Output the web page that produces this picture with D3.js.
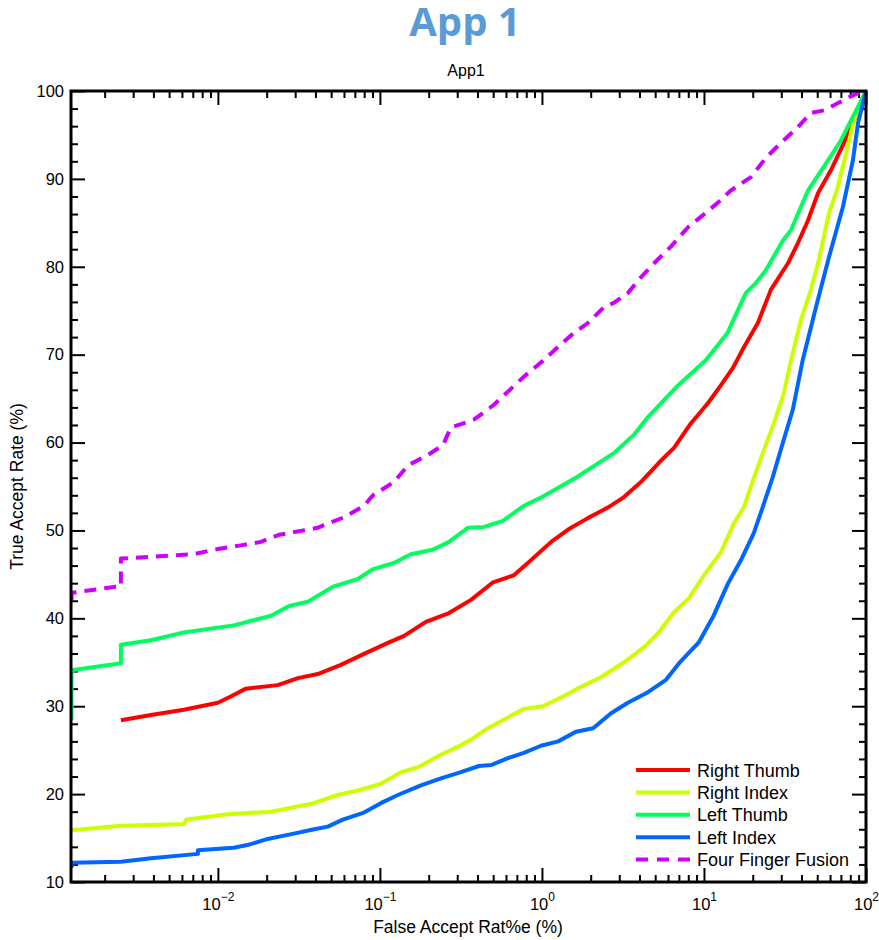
<!DOCTYPE html>
<html>
<head>
<meta charset="utf-8">
<script src="https://cdn.jsdelivr.net/npm/d3@7"></script>
<style>
  body { margin: 0; background: #fff; }
  svg { display: block; font-family: "Liberation Sans", Arial, sans-serif; }
</style>
</head>
<body>
<svg id="chart" width="879" height="940"></svg>
<script>
// [false accept rate %, true accept rate %]
const rightThumb = [
  [0.00252, 28.4], [0.00386, 29.0], [0.00617, 29.6], [0.0100, 30.4], [0.0120, 31.1],
  [0.0149, 32.0], [0.0234, 32.4], [0.0312, 33.2], [0.042, 33.7], [0.0574, 34.7],
  [0.0786, 35.9], [0.112, 37.2], [0.141, 38.0], [0.192, 39.6], [0.267, 40.6],
  [0.365, 42.1], [0.499, 44.1], [0.671, 44.9], [0.855, 46.6], [1.14, 48.7],
  [1.45, 50.1], [1.92, 51.4], [2.55, 52.6], [3.16, 53.7], [4.08, 55.5],
  [5.27, 57.7], [6.53, 59.4], [8.32, 62.2], [10.6, 64.5], [12.7, 66.5],
  [15.1, 68.5], [17.7, 70.9], [21.5, 73.6], [25.9, 77.4], [33.0, 80.4],
  [38.0, 82.7], [43.9, 85.3], [50.6, 88.4], [60.8, 91.0], [73.1, 94.1],
  [84.4, 96.7], [100, 100]
];
const rightIndex = [
  [0.00125, 15.9], [0.00252, 16.4], [0.00617, 16.6], [0.0064, 17.1], [0.0115, 17.7],
  [0.0213, 18.0], [0.0376, 18.9], [0.055, 19.9], [0.0763, 20.5], [0.102, 21.2],
  [0.135, 22.5], [0.174, 23.1], [0.228, 24.3], [0.303, 25.4], [0.365, 26.2],
  [0.464, 27.5], [0.583, 28.5], [0.774, 29.7], [1.01, 30.0], [1.31, 31.0],
  [1.74, 32.2], [2.31, 33.3], [3.21, 35.0], [4.26, 36.7], [5.20, 38.3],
  [6.53, 40.7], [8.08, 42.3], [10.0, 44.9], [12.7, 47.5], [15.3, 50.8],
  [17.7, 52.7], [20.4, 56.1], [23.5, 59.2], [27.0, 62.2], [31.1, 65.6],
  [34.5, 69.4], [39.6, 73.9], [45.7, 77.4], [51.2, 80.8], [59.1, 86.1],
  [67.1, 89.1], [75.3, 92.9], [84.4, 96.7], [100, 100]
];
const leftThumb = [
  [0.00125, 28.4], [0.00125, 34.1], [0.00252, 34.9], [0.00252, 37.0], [0.00386, 37.5],
  [0.00617, 38.4], [0.0125, 39.2], [0.0213, 40.3], [0.0275, 41.4], [0.0359, 41.9],
  [0.0514, 43.6], [0.0734, 44.5], [0.0906, 45.6], [0.122, 46.3], [0.155, 47.3],
  [0.212, 47.8], [0.267, 48.7], [0.349, 50.3], [0.439, 50.4], [0.574, 51.1],
  [0.774, 52.8], [1.0, 53.8], [1.62, 56.0], [2.78, 58.8], [3.70, 60.9],
  [4.51, 62.9], [6.91, 66.5], [10.3, 69.4], [14.0, 72.5], [18.1, 77.0],
  [21.0, 78.2], [24.1, 79.6], [30.7, 83.0], [34.5, 84.2], [43.9, 88.7],
  [55.0, 91.4], [70.1, 94.4], [100, 100]
];
const leftIndex = [
  [0.00125, 11.6], [0.00125, 12.2], [0.00252, 12.3], [0.00386, 12.7], [0.00753, 13.2],
  [0.00753, 13.6], [0.0125, 13.9], [0.0152, 14.2], [0.0203, 14.9], [0.0294, 15.5],
  [0.0393, 16.0], [0.0477, 16.3], [0.059, 17.1], [0.0797, 17.9], [0.102, 19.0],
  [0.129, 19.9], [0.179, 21.0], [0.238, 21.8], [0.316, 22.5], [0.408, 23.2],
  [0.485, 23.3], [0.617, 24.1], [0.774, 24.7], [0.986, 25.5], [1.26, 26.0],
  [1.62, 27.1], [2.07, 27.5], [2.67, 29.2], [3.39, 30.4], [4.51, 31.6],
  [5.83, 33.0], [7.02, 34.9], [9.32, 37.3], [11.4, 40.2], [14.1, 44.0],
  [16.9, 46.6], [20.3, 49.7], [23.1, 52.7], [26.6, 56.1], [30.6, 59.9],
  [35.3, 63.7], [40.7, 69.4], [49.1, 75.4], [59.1, 81.1], [72.0, 86.8],
  [83.0, 92.1], [89.4, 96.4], [100, 100]
];
const fourFinger = [
  [0.00125, 42.1], [0.00125, 42.9], [0.00235, 43.6], [0.00252, 43.6], [0.00252, 46.8],
  [0.00712, 47.3], [0.00935, 47.8], [0.0139, 48.3], [0.0184, 48.7], [0.0238, 49.5],
  [0.0413, 50.3], [0.0451, 50.6], [0.0601, 51.5], [0.0797, 52.8], [0.0906, 54.0],
  [0.122, 55.5], [0.149, 57.4], [0.198, 58.6], [0.245, 59.7], [0.274, 61.7],
  [0.380, 62.6], [0.506, 64.3], [0.617, 65.8], [0.774, 67.5], [0.986, 69.1],
  [1.26, 70.9], [1.58, 72.5], [1.92, 73.6], [2.41, 75.4], [2.78, 75.9],
  [3.39, 77.0], [4.08, 78.8], [4.92, 80.4], [6.25, 82.3], [7.97, 84.5],
  [9.60, 85.7], [12.2, 87.3], [14.7, 88.7], [19.5, 90.2], [24.1, 92.4],
  [31.1, 94.4], [38.0, 95.9], [45.7, 97.5], [55.0, 97.8], [66.9, 98.6],
  [78.6, 99.3], [93.3, 99.9], [100, 100]
];

const seriesNames = ["Right Thumb", "Right Index", "Left Thumb", "Left Index", "Four Finger Fusion"];
const seriesData = [rightThumb, rightIndex, leftThumb, leftIndex, fourFinger];
const colors = ["#ff0000", "#ccff00", "#00ff5e", "#0066ff", "#cc00ff"];

const xDecades = [0.01, 0.1, 1, 10, 100];
const xExponents = ["\u22122", "\u22121", "0", "1", "2"];
const yMajor = [10, 20, 30, 40, 50, 60, 70, 80, 90, 100];

const margin = { left: 71, right: 13, top: 91, bottom: 58 };
const width = 879, height = 940;
const plotW = width - margin.left - margin.right;
const plotH = height - margin.top - margin.bottom;

const svg = d3.select("#chart");

const x = d3.scaleLog().domain([0.00124, 100]).range([margin.left, margin.left + plotW]);
const y = d3.scaleLinear().domain([10, 100]).range([margin.top + plotH, margin.top]);

// minor tick positions
const xMinor = [];
xDecades.forEach(d => {
  for (let k = 2; k <= 9; k++) {
    const v = d / 10 * k;
    if (v > x.domain()[0]) xMinor.push(v);
  }
});
const yMinor = d3.range(12, 100, 2).filter(v => v % 10 !== 0);

// title
svg.append("text")
  .attr("x", 465).attr("y", 36)
  .attr("text-anchor", "middle")
  .style("font-family", "'Open Sans', sans-serif")
  .style("font-weight", 700)
  .style("font-size", "40px")
  .style("fill", "#5b9bd5")
  .text("App 1");

svg.append("text")
  .attr("x", 466).attr("y", 76)
  .attr("text-anchor", "middle")
  .style("font-size", "16px")
  .text("App1");

// axes: ticks point inward on all four sides
const tickStyle = g => {
  g.select(".domain").remove();
  g.selectAll(".tick line").attr("stroke", "#000").attr("stroke-width", 2);
};

svg.append("g")
  .attr("transform", `translate(${margin.left},0)`)
  .call(d3.axisLeft(y).tickValues(yMajor).tickSizeInner(-14).tickSizeOuter(0).tickPadding(7))
  .call(tickStyle)
  .call(g => g.selectAll("text").style("font-size", "16.5px").attr("fill", "#000")
    .style("font-family", "'Liberation Sans', Arial, sans-serif"));

svg.append("g")
  .attr("transform", `translate(${margin.left},0)`)
  .call(d3.axisLeft(y).tickValues(yMinor).tickSizeInner(-7).tickSizeOuter(0).tickFormat(""))
  .call(tickStyle);

svg.append("g")
  .attr("transform", `translate(${margin.left + plotW},0)`)
  .call(d3.axisRight(y).tickValues(yMajor).tickSizeInner(-14).tickSizeOuter(0).tickFormat(""))
  .call(tickStyle);

svg.append("g")
  .attr("transform", `translate(${margin.left + plotW},0)`)
  .call(d3.axisRight(y).tickValues(yMinor).tickSizeInner(-7).tickSizeOuter(0).tickFormat(""))
  .call(tickStyle);

const xAxisBottom = svg.append("g")
  .attr("transform", `translate(0,${margin.top + plotH})`)
  .call(d3.axisBottom(x).tickValues(xDecades).tickSizeInner(-14).tickSizeOuter(0).tickFormat(""))
  .call(tickStyle);

xAxisBottom.selectAll(".tick").each(function (d, i) {
  const t = d3.select(this).append("text")
    .attr("y", 28)
    .attr("text-anchor", "middle")
    .attr("fill", "#000")
    .style("font-size", "16.5px");
  t.append("tspan").text("10");
  t.append("tspan").attr("dy", -9).style("font-size", "12px").text(xExponents[i]);
});

svg.append("g")
  .attr("transform", `translate(0,${margin.top + plotH})`)
  .call(d3.axisBottom(x).tickValues(xMinor).tickSizeInner(-7).tickSizeOuter(0).tickFormat(""))
  .call(tickStyle);

svg.append("g")
  .attr("transform", `translate(0,${margin.top})`)
  .call(d3.axisTop(x).tickValues(xDecades).tickSizeInner(-14).tickSizeOuter(0).tickFormat(""))
  .call(tickStyle);

svg.append("g")
  .attr("transform", `translate(0,${margin.top})`)
  .call(d3.axisTop(x).tickValues(xMinor).tickSizeInner(-7).tickSizeOuter(0).tickFormat(""))
  .call(tickStyle);

// axis labels
svg.append("text")
  .attr("x", 468).attr("y", 933)
  .attr("text-anchor", "middle")
  .style("font-size", "17.5px")
  .text("False Accept Rat%e (%)");

svg.append("text")
  .attr("transform", `translate(23,${margin.top + plotH / 2}) rotate(-90)`)
  .attr("text-anchor", "middle")
  .style("font-size", "17.5px")
  .text("True Accept Rate (%)");

// curves
svg.append("clipPath").attr("id", "clip")
  .append("rect")
  .attr("x", margin.left).attr("y", margin.top - 3)
  .attr("width", plotW + 3).attr("height", plotH + 3);

const line = d3.line().x(d => x(d[0])).y(d => y(d[1]));

svg.append("g")
  .attr("clip-path", "url(#clip)")
  .selectAll("path")
  .data(seriesData)
  .join("path")
  .attr("d", line)
  .attr("fill", "none")
  .attr("stroke", (d, i) => colors[i])
  .attr("stroke-width", 4)
  .attr("stroke-linejoin", "round")
  .attr("stroke-dasharray", (d, i) => i === 4 ? "12,8" : null);

// frame
svg.append("rect")
  .attr("x", margin.left).attr("y", margin.top)
  .attr("width", plotW).attr("height", plotH)
  .attr("fill", "none")
  .attr("stroke", "#000")
  .attr("stroke-width", 3);

// legend
const legend = svg.append("g").attr("transform", "translate(636,770)");
const rows = legend.selectAll("g")
  .data(seriesNames)
  .join("g")
  .attr("transform", (d, i) => `translate(0,${i * 22.4})`);

rows.append("line")
  .attr("x1", 0).attr("x2", 54)
  .attr("stroke", (d, i) => colors[i])
  .attr("stroke-width", 4)
  .attr("stroke-dasharray", (d, i) => i === 4 ? "12,9" : null);

rows.append("text")
  .attr("x", 61).attr("y", 6.5)
  .style("font-size", "18px")
  .text(d => d);
</script>
</body>
</html>
